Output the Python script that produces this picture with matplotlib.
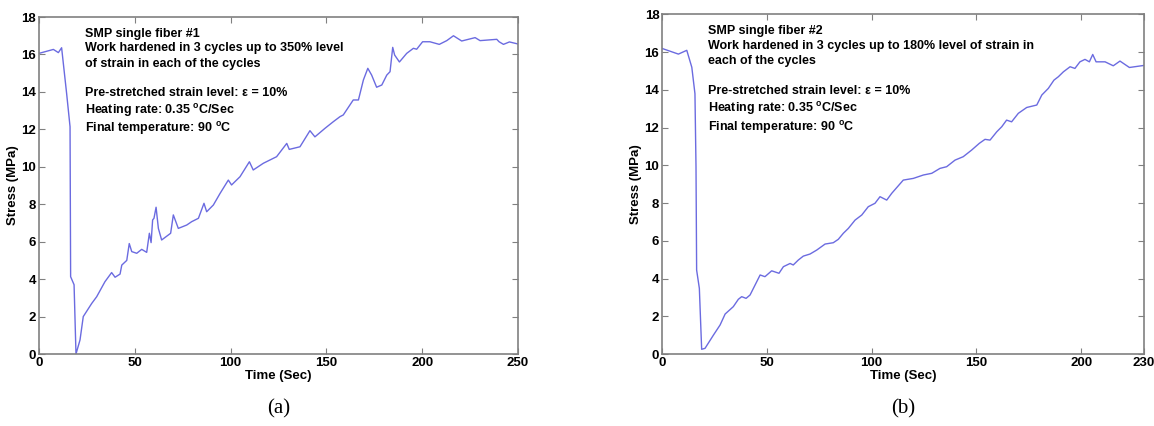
import matplotlib
matplotlib.use('Agg')
import matplotlib.pyplot as plt

plt.rcParams['font.family'] = 'Liberation Sans'
plt.rcParams['font.weight'] = 'bold'
plt.rcParams['mathtext.fontset'] = 'custom'
plt.rcParams['mathtext.rm'] = 'Liberation Sans:bold'
plt.rcParams['mathtext.bf'] = 'Liberation Sans:bold'

# fiber #1
t1 = [0, 7.5, 10.1, 11.8, 14.4, 16.2, 16.5, 18.3, 19.3, 21.4, 23.1, 27.5, 30.1, 34.4, 37.9,
      39.7, 42.3, 43.2, 45.8, 47.1, 48.4, 51, 53.6, 56.2, 57.6, 58.5, 59.3, 60, 61.1, 62.3,
      64, 68.7, 70.1, 72.7, 77.1, 79.7, 83.2, 86.1, 87.5, 91, 94.5, 98.8, 100.5, 104.9,
      109.8, 111.8, 117.1, 124, 129.3, 130.6, 136.2, 141.4, 144, 149.3, 153.6, 157.1,
      158.8, 164, 166.7, 169.3, 171.6, 173.6, 176.2, 178.9, 181.5, 183.2, 184.6, 185.6,
      188.1, 191.9, 195.4, 197.1, 200.2, 204, 208.9, 212.8, 216.3, 220.6, 227.6, 230.2,
      238.9, 240.1, 242.4, 245.5, 250]
s1 = [16.06, 16.27, 16.1, 16.36, 13.93, 12.14, 4.13, 3.7, 0.0, 0.75, 2.0, 2.7, 3.06, 3.86, 4.35,
      4.1, 4.27, 4.75, 5.0, 5.9, 5.47, 5.38, 5.59, 5.43, 6.45, 5.95, 7.16, 7.25, 7.84, 6.71,
      6.09, 6.45, 7.43, 6.71, 6.89, 7.07, 7.25, 8.05, 7.6, 7.96, 8.58, 9.29, 9.03, 9.47,
      10.27, 9.83, 10.19, 10.54, 11.25, 10.93, 11.07, 11.93, 11.6, 12.06, 12.41, 12.68,
      12.77, 13.57, 13.57, 14.64, 15.26, 14.9, 14.25, 14.37, 14.9, 15.08, 16.38, 15.97,
      15.6, 16.06, 16.33, 16.28, 16.68, 16.68, 16.54, 16.74, 17.0, 16.72, 16.9, 16.74,
      16.81, 16.68, 16.54, 16.67, 16.56]

# fiber #2
t2 = [0, 7.8, 11.8, 14.2, 15.7, 16.2, 16.5, 17.8, 18.9, 20.5, 24.5, 27.7, 30.1, 34, 36.4, 38,
      40.1, 42, 44.4, 46.8, 49.1, 52.3, 55.8, 57.9, 61.1, 62.6, 65, 67.4, 70.6, 73.8, 77.8,
      81.7, 84.1, 86.5, 88.9, 92.1, 95.3, 98.4, 101.6, 104, 107.2, 109.6, 115.1, 119.9,
      124.7, 128.7, 132.6, 135.8, 139.8, 143.7, 147.7, 151.4, 154.1, 156.5, 159.7, 162.1,
      164.4, 166.8, 170, 174, 178.8, 181.2, 184.3, 187, 189.1, 191.5, 194.7, 197, 199.4,
      201.8, 203.9, 205.5, 207.1, 211.4, 215.3, 218.5, 223, 230]
s2 = [16.2, 15.9, 16.1, 15.2, 13.8, 9.93, 4.45, 3.48, 0.25, 0.3, 1.0, 1.54, 2.12, 2.51, 2.9, 3.04,
      2.95, 3.13, 3.66, 4.19, 4.1, 4.41, 4.28, 4.63, 4.8, 4.72, 4.98, 5.19, 5.3, 5.51, 5.83,
      5.9, 6.08, 6.4, 6.66, 7.1, 7.37, 7.81, 7.99, 8.34, 8.16, 8.52, 9.22, 9.31,
      9.49, 9.58, 9.84, 9.93, 10.28, 10.46, 10.81, 11.17, 11.38, 11.34, 11.78, 12.05,
      12.4, 12.31, 12.76, 13.07, 13.2, 13.73, 14.08, 14.52, 14.7, 14.96, 15.23, 15.14, 15.49,
      15.62, 15.49, 15.88, 15.49, 15.49, 15.28, 15.53, 15.19, 15.3]

notes1 = ['SMP single fiber #1',
          'Work hardened in 3 cycles up to 350% level',
          'of strain in each of the cycles']
notes2 = ['SMP single fiber #2',
          'Work hardened in 3 cycles up to 180% level of strain in',
          'each of the cycles']
common = ['Pre-stretched strain level: \u03b5 = 10%',
          r'Heating rate: 0.35 $^{\mathrm{o}}$C/Sec',
          r'Final temperature: 90 $^{\mathrm{o}}$C']

fig = plt.figure(figsize=(11.54, 4.26), dpi=100)
ax1 = fig.add_axes([0.0338, 0.169, 0.4151, 0.791])
ax2 = fig.add_axes([0.5737, 0.169, 0.4177, 0.797])

line_col = '#6b6be0'
spine_col = '#808080'

for ax, t, s, xmax, xt, notes, tag in [
        (ax1, t1, s1, 250, [0, 50, 100, 150, 200, 250], notes1, '(a)'),
        (ax2, t2, s2, 230, [0, 50, 100, 150, 200, 230], notes2, '(b)')]:
    ax.plot(t, s, color=line_col, lw=1.0)
    ax.set_xlim(0, xmax)
    ax.set_ylim(0, 18)
    ax.set_xticks(xt)
    ax.set_yticks(range(0, 19, 2))
    ax.tick_params(direction='in', top=True, right=True, labelsize=9.5,
                   length=4, color=spine_col, pad=2)
    for sp in ax.spines.values():
        sp.set_color(spine_col)
        sp.set_linewidth(1.2)
    ax.set_xlabel('Time (Sec)', fontsize=9.5, fontweight='bold', labelpad=1)
    ax.set_ylabel('Stress (MPa)', fontsize=9.5, fontweight='bold', labelpad=2)
    ys = [0.951, 0.907, 0.862, 0.775, 0.722, 0.668]
    for y, txt in zip(ys, notes + common):
        ax.text(0.095, y, txt, transform=ax.transAxes, fontsize=9,
                fontweight='bold', va='center', ha='left')
    ax.text(0.5, -0.163, tag, transform=ax.transAxes, fontsize=15,
            family='Liberation Serif', fontweight='normal', ha='center', va='center')

fig.savefig('out.png', dpi=100)
